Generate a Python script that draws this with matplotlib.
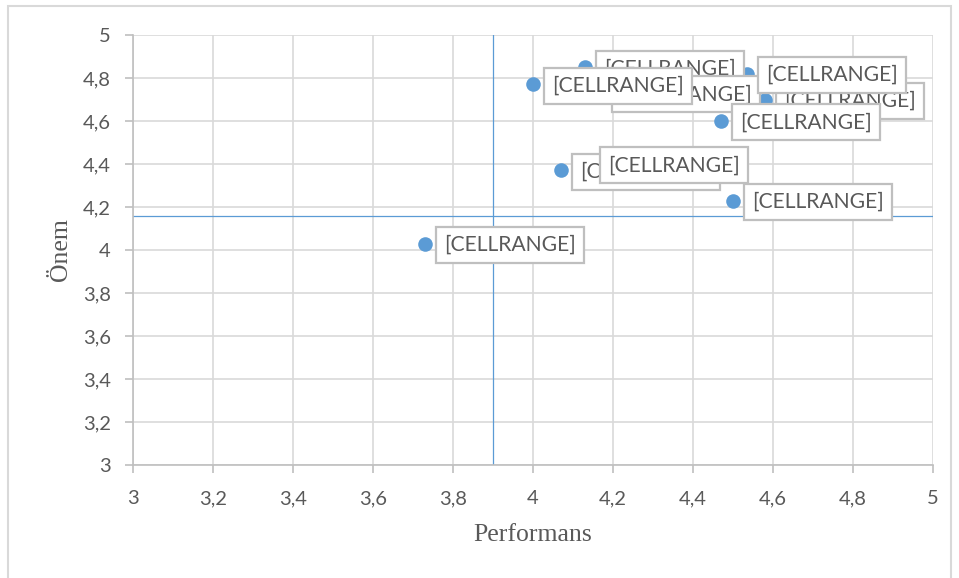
import matplotlib.pyplot as plt
from matplotlib.patches import Rectangle
from matplotlib.ticker import FuncFormatter

# Data
performans = [4.07, 4.14, 4.13, 4.17, 4.00, 4.58, 4.535, 4.47, 4.50, 3.73]
onem = [4.37, 4.40, 4.85, 4.73, 4.77, 4.70, 4.82, 4.60, 4.23, 4.03]
labels = ["[CELLRANGE]"] * len(performans)
ref_x = 3.9
ref_y = 4.16

fig = plt.figure(figsize=(9.59, 5.78), dpi=100)
ax = fig.add_axes([0.1387, 0.1955, 0.8342, 0.7439])

ax.scatter(performans, onem, s=110, color="#5b9bd5", zorder=3, linewidths=0)

for i, (x, y, lab) in enumerate(zip(performans, onem, labels)):
    ax.annotate(lab, (x, y), xytext=(13.5, -1), textcoords="offset points",
                ha="left", va="center", fontsize=15.2, family="Lato", color="#595959",
                bbox=dict(boxstyle="square,pad=0.38", fc="white", ec="#bfbfbf", lw=1.6),
                zorder=10 + i)

ax.axvline(ref_x, color="#5b9bd5", lw=0.9, zorder=2)
ax.axhline(ref_y, color="#5b9bd5", lw=0.9, zorder=2)

ax.set_xlim(3, 5)
ax.set_ylim(3, 5)
ax.set_xticks([3 + 0.2 * k for k in range(11)])
ax.set_yticks([3 + 0.2 * k for k in range(11)])
fmt = FuncFormatter(lambda v, p: ("%g" % round(v, 1)).replace(".", ","))
ax.xaxis.set_major_formatter(fmt)
ax.yaxis.set_major_formatter(fmt)
ax.grid(True, color="#d9d9d9", lw=1.2, zorder=0)
ax.set_axisbelow(True)

for s in ["top", "right"]:
    ax.spines[s].set_visible(False)
for s in ["left", "bottom"]:
    ax.spines[s].set_color("#bfbfbf")
    ax.spines[s].set_linewidth(1.2)

ax.tick_params(colors="#bfbfbf", labelcolor="#595959", labelsize=14.5, length=6, width=1.2)
for t in ax.get_xticklabels() + ax.get_yticklabels():
    t.set_family("Lato")
ax.tick_params(axis="x", pad=12)
ax.tick_params(axis="y", pad=10)

ax.set_xlabel("Performans", family="Liberation Serif", fontsize=18.5, color="#595959", labelpad=12)
ax.set_ylabel("Önem", family="Liberation Serif", fontsize=18.5, color="#595959", labelpad=8)

fig.patches.append(Rectangle((8 / 959, -0.01), 943 / 959, 1 - 6 / 578 + 0.01,
                             transform=fig.transFigure, fill=False, ec="#d9d9d9", lw=1.5))

fig.savefig("out.png", dpi=100)
